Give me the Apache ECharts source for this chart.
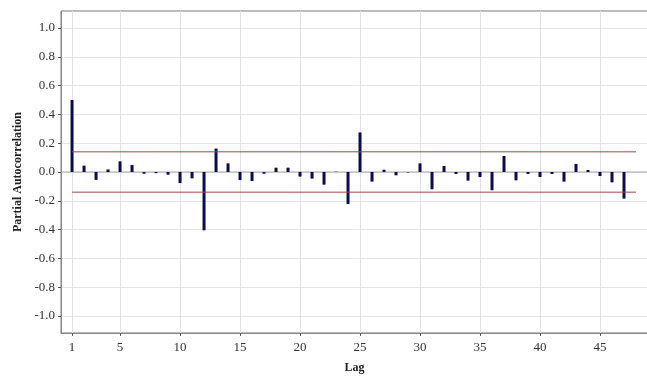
<!DOCTYPE html>
<html>
<head>
<meta charset="utf-8">
<script src="https://cdn.jsdelivr.net/npm/echarts@6/dist/echarts.min.js"></script>
<style>html,body{margin:0;padding:0;background:#fff;}#c{width:647px;height:376px;}</style>
</head>
<body>
<div id="c"></div>
<script>
const lags = [];
for (let i = 1; i <= 47; i++) lags.push(i);
const pacf = [0.50, 0.044, -0.055, 0.018, 0.074, 0.049, -0.012, -0.008, -0.019, -0.077,
  -0.044, -0.405, 0.163, 0.060, -0.056, -0.063, -0.012, 0.030, 0.030, -0.032,
  -0.046, -0.088, 0.002, -0.222, 0.275, -0.067, 0.016, -0.023, -0.003, 0.060,
  -0.120, 0.042, -0.014, -0.060, -0.035, -0.127, 0.111, -0.058, -0.014, -0.035,
  -0.014, -0.067, 0.056, 0.014, -0.028, -0.072, -0.185];
const confLimit = 0.14;
const confRange = [1, 48];
const xTicks = [1, 5, 10, 15, 20, 25, 30, 35, 40, 45];
const yTicks = [-1.0, -0.8, -0.6, -0.4, -0.2, 0.0, 0.2, 0.4, 0.6, 0.8, 1.0];

const serif = '"Liberation Serif", "DejaVu Serif", serif';
const xMin = 0.08, xMax = 49.0;
const chart = echarts.init(document.getElementById('c'));
chart.setOption({
  animation: false,
  grid: { left: 61, right: -1, top: 11, bottom: 43, outerBoundsMode: 'none', containLabel: false,
    show: true, borderColor: '#7a7a7a', borderWidth: 1, backgroundColor: 'transparent' },
  xAxis: {
    type: 'value', min: xMin, max: xMax,
    name: 'Lag', nameLocation: 'middle', nameGap: 29,
    nameTextStyle: { fontFamily: serif, fontWeight: 'bold', fontSize: 12, color: '#222' },
    axisLine: { onZero: false, lineStyle: { color: '#8a8a8a', width: 1 } },
    axisTick: { show: true, length: 3, customValues: xTicks, lineStyle: { color: '#555' } },
    axisLabel: { customValues: xTicks, fontFamily: serif, fontSize: 13, color: '#333', margin: 8 },
    splitLine: { show: true, lineStyle: { color: '#e0e0e0', width: 1 } }
  },
  yAxis: {
    type: 'value', min: -1.118, max: 1.118,
    name: 'Partial Autocorrelation', nameLocation: 'middle', nameGap: 36,
    nameTextStyle: { fontFamily: serif, fontWeight: 'bold', fontSize: 12, color: '#222' },
    axisLine: { show: true, lineStyle: { color: '#8a8a8a', width: 1 } },
    axisTick: { show: true, length: 3, customValues: yTicks, lineStyle: { color: '#555' } },
    axisLabel: { customValues: yTicks, fontFamily: serif, fontSize: 13, color: '#333', margin: 6,
      formatter: v => v.toFixed(1) },
    splitLine: { show: true, lineStyle: { color: '#e4e4e4', width: 1 } }
  },
  series: [{
    type: 'line', data: [[xMin, 0], [xMax, 0]], symbol: 'none', silent: true,
    lineStyle: { color: '#a8a8a8', width: 1 }, z: 1
  }, {
    type: 'line', data: [[confRange[0], confLimit], [confRange[1], confLimit]], symbol: 'none', silent: true,
    lineStyle: { color: '#9a4a48', width: 1 }, z: 3
  }, {
    type: 'line', data: [[confRange[0], -confLimit], [confRange[1], -confLimit]], symbol: 'none', silent: true,
    lineStyle: { color: '#9a4a48', width: 1 }, z: 3
  }, {
    type: 'bar', barWidth: 3, data: lags.map((l, i) => [l, pacf[i]]),
    itemStyle: { color: '#0a0a5c' }, z: 2
  }]
});
</script>
</body>
</html>
